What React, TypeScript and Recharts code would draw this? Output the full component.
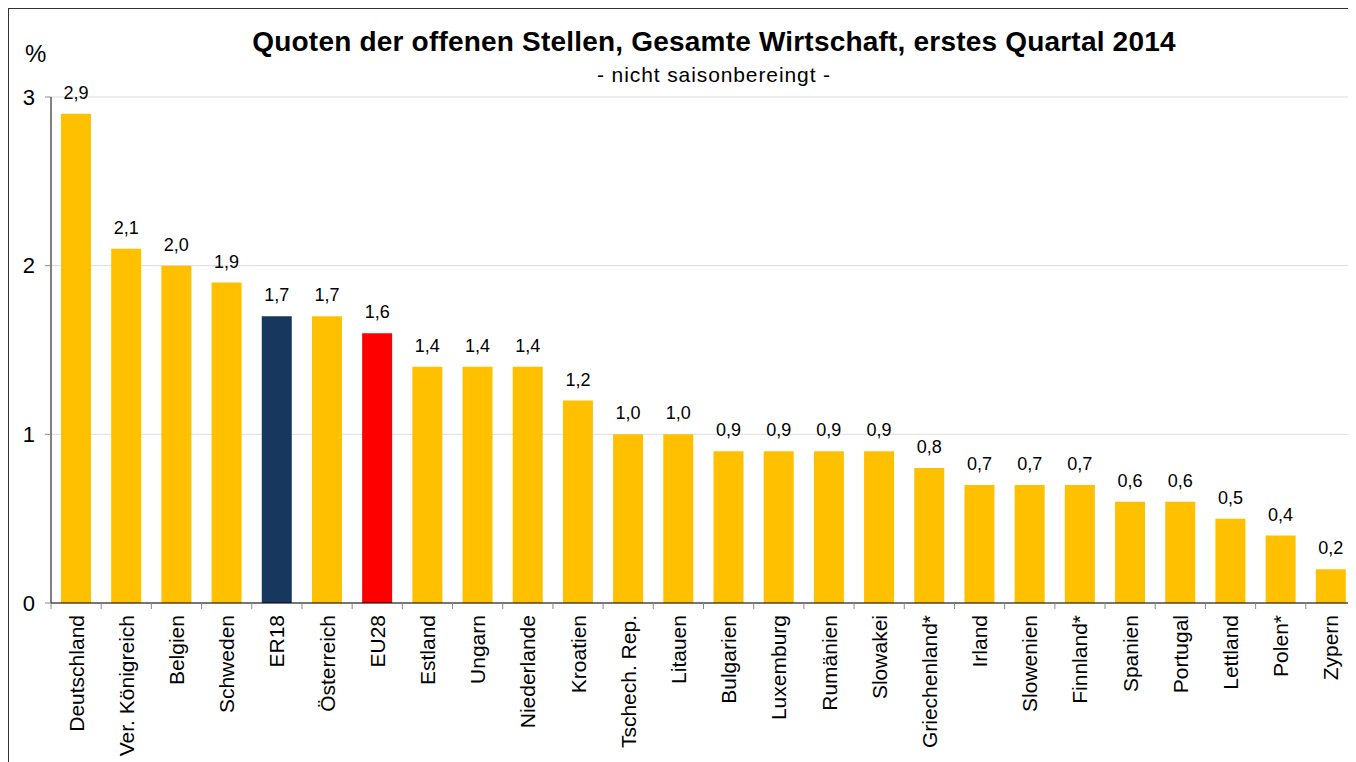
import { Bar, BarChart, CartesianGrid, Cell, LabelList, XAxis, YAxis } from "recharts";

const countries = [
  "Deutschland", "Ver. Königreich", "Belgien", "Schweden", "ER18", "Österreich", "EU28",
  "Estland", "Ungarn", "Niederlande", "Kroatien", "Tschech. Rep.", "Litauen", "Bulgarien",
  "Luxemburg", "Rumänien", "Slowakei", "Griechenland*", "Irland", "Slowenien", "Finnland*",
  "Spanien", "Portugal", "Lettland", "Polen*", "Zypern",
];
const rates = [2.9, 2.1, 2.0, 1.9, 1.7, 1.7, 1.6, 1.4, 1.4, 1.4, 1.2, 1.0, 1.0, 0.9, 0.9, 0.9, 0.9, 0.8, 0.7, 0.7, 0.7, 0.6, 0.6, 0.5, 0.4, 0.2];
const yTicks = [0, 1, 2, 3];
const highlight: Record<string, string> = { ER18: "#17375E", EU28: "#FF0000" };

const data = countries.map((name, i) => ({ name, value: rates[i] }));

const FONT = "'Liberation Sans', Arial, Helvetica, sans-serif";
const W = 1347;
const H = 753;
const BAND = (W - 42) / countries.length;

function CountryTick(props: any) {
  const { x, y, payload } = props;
  return (
    <g>
      <line x1={x - BAND / 2} y1={y - 8} x2={x - BAND / 2} y2={y - 2} stroke="#888" />
      <text
        x={x}
        y={y + 4}
        transform={`rotate(-90, ${x}, ${y + 4})`}
        textAnchor="end"
        dy="0.36em"
        fontSize={21}
        fontFamily={FONT}
        fill="#000"
      >
        {payload.value}
      </text>
    </g>
  );
}

export default function App() {
  return (
    <div
      style={{
        position: "relative",
        width: 1348,
        height: 754,
        borderLeft: "1px solid #333",
        borderTop: "1px solid #333",
        overflow: "hidden",
        fontFamily: FONT,
        background: "#fff",
      }}
    >
      <div style={{ position: "absolute", left: 0, width: 1410, top: 17, textAlign: "center", fontSize: 28, lineHeight: "32px", fontWeight: "bold", letterSpacing: 0.2 }}>
        Quoten der offenen Stellen, Gesamte Wirtschaft, erstes Quartal 2014
      </div>
      <div style={{ position: "absolute", left: 0, width: 1410, top: 54, textAlign: "center", fontSize: 21, lineHeight: "24px", letterSpacing: 0.9 }}>
        - nicht saisonbereingt -
      </div>
      <div style={{ position: "absolute", left: 16, top: 31, fontSize: 24, lineHeight: "28px" }}>%</div>
      <BarChart width={W} height={H} data={data} margin={{ top: 88, right: 0, left: 0, bottom: 0 }} barSize={30}>
        <CartesianGrid vertical={false} stroke="#dcdcdc" />
        <YAxis
          width={42}
          domain={[0, 3]}
          ticks={yTicks}
          tickSize={6}
          tickMargin={10}
          axisLine={{ stroke: "#000" }}
          tickLine={{ stroke: "#888" }}
          tick={{ fill: "#000", fontSize: 22, fontFamily: FONT }}
        />
        <XAxis
          dataKey="name"
          height={159}
          interval={0}
          axisLine={{ stroke: "#000" }}
          tickLine={false}
          tick={<CountryTick />}
        />
        <Bar dataKey="value" isAnimationActive={false}>
          {data.map((d) => (
            <Cell key={d.name} fill={highlight[d.name] ?? "#FFC000"} />
          ))}
          <LabelList
            dataKey="value"
            position="top"
            offset={15}
            formatter={(v: any) => Number(v).toFixed(1).replace(".", ",")}
            style={{ fill: "#000", fontSize: 18, fontFamily: FONT }}
          />
        </Bar>
      </BarChart>
    </div>
  );
}
